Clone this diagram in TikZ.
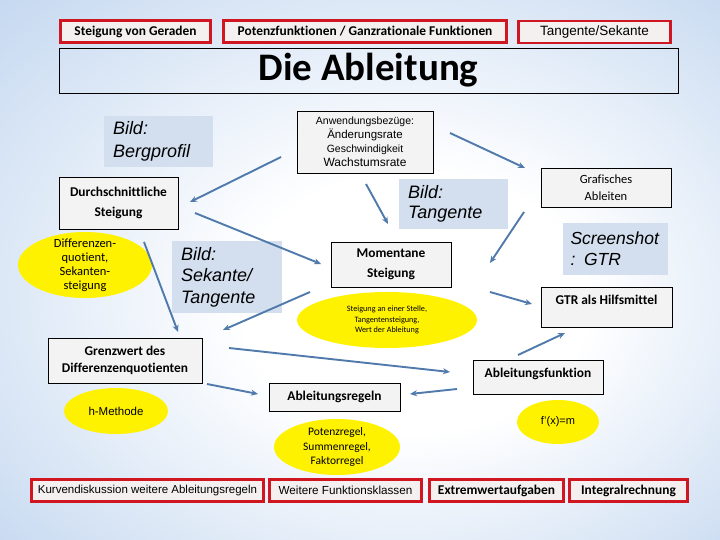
\documentclass[tikz,border=0pt]{standalone}
\usepackage{fontspec}
\setmainfont{Carlito}[Ligatures=NoCommon]
\newfontfamily\arialf{Liberation Sans}[Ligatures=NoCommon]
\usetikzlibrary{shapes.geometric,arrows.meta}
\definecolor{bgblue}{RGB}{168,197,233}
\definecolor{boxred}{RGB}{208,22,32}
\definecolor{redfill}{RGB}{244,240,240}
\definecolor{boxfill}{RGB}{243,243,243}
\definecolor{picblue}{RGB}{211,223,239}
\definecolor{arrblue}{RGB}{80,122,172}
\pgfdeclareradialshading{bgshade}{\pgfpoint{5bp}{-4bp}}{color(0bp)=(white); color(12bp)=(white); color(50bp)=(bgblue)}
\tikzset{
  redbox/.style={draw=boxred, line width=2.8pt, fill=redfill, minimum height=22pt, inner sep=0pt},
  blkbox/.style={draw=black, line width=0.7pt, fill=boxfill, inner sep=0pt, align=center},
  picbox/.style={fill=picblue, inner sep=0pt, align=left, font=\arialf\itshape\fontsize{18}{22}\selectfont},
  yell/.style={ellipse, fill=yellow, inner sep=0pt},
  txt/.style={align=center, inner sep=0pt},
  bfont/.style={font=\bfseries\fontsize{13.4}{20}\selectfont},
  arr/.style={draw=arrblue, line width=1.9pt, -{Stealth[length=7pt,width=6pt]}},
}
\begin{document}
\begin{tikzpicture}[x=1pt,y=-1pt]
\useasboundingbox (0,0) rectangle (720,540);
\shade[shading=bgshade] (0,0) rectangle (720,540);

% top red boxes
\node[redbox, minimum width=150pt, bfont] (geraden) at (135.5,31.5) {Steigung von Geraden};
\node[redbox, minimum width=283pt, bfont] (potenz) at (365,31.5) {Potenzfunktionen / Ganzrationale Funktionen};
\node[redbox, minimum width=152pt, font=\arialf\fontsize{13.5}{15}\selectfont] (tangsek) at (594.5,32) {Tangente/Sekante};

% title
\node[draw=black, line width=0.8pt, minimum width=619pt, minimum height=45pt, inner sep=0pt, font=\bfseries\fontsize{39}{40}\selectfont] (title) at (368.5,70.5) {Die Ableitung};

% Anwendungsbezuege
\node[blkbox, minimum width=136pt, minimum height=62pt, font=\arialf\fontsize{11}{14}\selectfont] (anw) at (365,142)
  {{\fontsize{10.5}{14}\selectfont Anwendungsbezüge:}\\{\fontsize{11.5}{14}\selectfont Änderungsrate}\\{\fontsize{10.5}{14}\selectfont Geschwindigkeit}\\{\fontsize{12}{14}\selectfont Wachstumsrate}};

% picture placeholders
\node[picbox, minimum width=109pt, minimum height=51pt, text width=91pt, font=\arialf\itshape\fontsize{18}{23}\selectfont] (berg) at (158.5,141.5) {Bild:\\Bergprofil};
\node[picbox, minimum width=109pt, minimum height=50pt, text width=91pt, font=\arialf\itshape\fontsize{18}{20}\selectfont] (bildtang) at (453.5,204) {Bild:\\Tangente};
\node[picbox, minimum width=105pt, minimum height=51pt, text width=90pt, font=\arialf\itshape\fontsize{17.5}{21}\selectfont] (screen) at (615.5,249) {Screenshot\\: GTR};
\node[picbox, minimum width=110pt, minimum height=72pt, text width=92pt, font=\arialf\itshape\fontsize{18}{21.5}\selectfont] (sekante) at (227,277) {Bild:\\Sekante/\\Tangente};

% black boxes
\node[blkbox, minimum width=119pt, minimum height=52pt, bfont] (durch) at (118.5,203) {Durchschnittliche\\Steigung};
\node[blkbox, minimum width=130pt, minimum height=39pt, font=\fontsize{12.5}{17}\selectfont] (grafisch) at (606,187.5) {Grafisches\\Ableiten};
\node[blkbox, minimum width=120pt, minimum height=45pt, bfont] (moment) at (391,264.5) {Momentane\\Steigung};
\node[blkbox, minimum width=131pt, minimum height=40pt, bfont, text height=10pt, text depth=15pt] (gtr) at (606.5,307) {GTR als Hilfsmittel};
\node[blkbox, minimum width=154pt, minimum height=45pt, font=\bfseries\fontsize{13.4}{17}\selectfont] (grenz) at (125,360.5) {Grenzwert des\\Differenzenquotienten};
\node[blkbox, minimum width=130pt, minimum height=34pt, bfont, text height=10pt, text depth=9pt] (afunk) at (538,377) {Ableitungsfunktion};
\node[blkbox, minimum width=131pt, minimum height=28pt, bfont] (aregeln) at (334.5,397) {Ableitungsregeln};

% yellow ellipses
\node[yell, minimum width=134pt, minimum height=66pt] (diff) at (85,265) {};
\node[txt, font=\fontsize{12.5}{14}\selectfont] (diffT) at (diff.center) {Differenzen-\\quotient,\\Sekanten-\\steigung};
\node[yell, minimum width=180pt, minimum height=56pt] (stelle) at (387,320) {};
\node[txt, font=\fontsize{8.2}{10.5}\selectfont] (stelleT) at (stelle.center) {Steigung an einer Stelle,\\Tangentensteigung,\\Wert der Ableitung};
\node[yell, minimum width=104pt, minimum height=46pt] (hmeth) at (116,411) {};
\node[txt, font=\arialf\fontsize{11.5}{14}\selectfont] (hmethT) at (hmeth.center) {h-Methode};
\node[yell, minimum width=126pt, minimum height=56pt] (pregel) at (337,447) {};
\node[txt, font=\fontsize{11.5}{14.5}\selectfont] (pregelT) at (pregel.center) {Potenzregel,\\Summenregel,\\Faktorregel};
\node[yell, minimum width=82pt, minimum height=44pt] (fxm) at (558,422) {};
\node[txt, font=\arialf\fontsize{11}{13}\selectfont] (fxmT) at (fxm.center) {f’(x)=m};

% bottom red boxes
\node[redbox, minimum width=232pt, font=\arialf\fontsize{11.5}{14}\selectfont] (kurv) at (147.5,490.5) {Kurvendiskussion weitere Ableitungsregeln};
\node[redbox, minimum width=152pt, font=\arialf\fontsize{11.7}{14}\selectfont] (weitere) at (345.5,490.5) {Weitere Funktionsklassen};
\node[redbox, minimum width=134pt, bfont] (extrem) at (496.5,490.5) {Extremwertaufgaben};
\node[redbox, minimum width=118pt, bfont] (integral) at (628.5,490.5) {Integralrechnung};

% arrow end points
\coordinate (a1s) at (281,157);  \coordinate (a1e) at (190,202);
\coordinate (a2s) at (195,213);  \coordinate (a2e) at (321,264);
\coordinate (a3s) at (450,133);  \coordinate (a3e) at (525,168);
\coordinate (a4s) at (366,184);  \coordinate (a4e) at (388,224);
\coordinate (a5s) at (144,242);  \coordinate (a5e) at (178,332);
\coordinate (a6s) at (524,212);  \coordinate (a6e) at (490,263);
\coordinate (a7s) at (310,292);  \coordinate (a7e) at (223,330);
\coordinate (a8s) at (490,292);  \coordinate (a8e) at (532,304);
\coordinate (a9s) at (518,355);  \coordinate (a9e) at (565,333);
\coordinate (a10s) at (229,348); \coordinate (a10e) at (450,372);
\coordinate (a11s) at (207,384); \coordinate (a11e) at (258,394);
\coordinate (a12s) at (457,389); \coordinate (a12e) at (410,394);

\foreach \i in {1,...,12} { \draw[arr] (a\i s) -- (a\i e); }
\end{tikzpicture}
\end{document}
